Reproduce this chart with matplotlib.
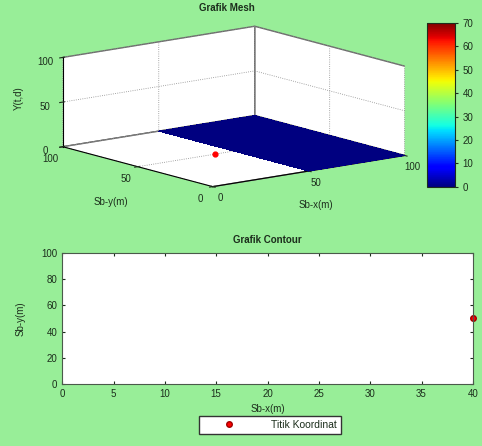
import numpy as np
import matplotlib
matplotlib.use("Agg")
import matplotlib.pyplot as plt
from matplotlib import cm, colors

# data
mesh_x = [50, 100]          # Sb-x(m) extent of the mesh
mesh_y = [0, 100]           # Sb-y(m) extent of the mesh
mesh_z = [[0, 0], [0, 0]]   # Y(t,d)
titik_x = [40]
titik_y = [50]
titik_z = [0]
cbar_ticks = [0, 10, 20, 30, 40, 50, 60, 70]
z_ticks = [0, 50, 100]
xy_ticks = [0, 50, 100]
contour_xticks = [0, 5, 10, 15, 20, 25, 30, 35, 40]
contour_yticks = [0, 20, 40, 60, 80, 100]

bg = "#98ee98"
txt = "#1c2e1c"
fs = 7

plt.rcParams["font.family"] = ["Liberation Sans", "DejaVu Sans"]
plt.rcParams["font.size"] = fs
plt.rcParams["text.color"] = txt
plt.rcParams["xtick.color"] = txt
plt.rcParams["ytick.color"] = txt
plt.rcParams["axes.labelcolor"] = txt
plt.rcParams["grid.linestyle"] = ":"
plt.rcParams["grid.color"] = "#8a8a8a"
plt.rcParams["grid.linewidth"] = 0.6

fig = plt.figure(figsize=(4.82, 4.46), dpi=100, facecolor=bg)

# ---- Grafik Mesh (3D)
ax3 = fig.add_axes([0.019, 0.52, 0.92, 0.47], projection="3d", proj_type="ortho")
ax3.set_facecolor(bg)
X, Y = np.meshgrid(mesh_x, mesh_y)
Z = np.array(mesh_z)
norm = colors.Normalize(vmin=0, vmax=70)
surf = ax3.plot_surface(X, Y, Z, cmap="jet", norm=norm, linewidth=0,
                        antialiased=False, shade=False)
surf.set_clip_on(False)
pt = ax3.scatter(titik_x, titik_y, titik_z, color="red", s=12, depthshade=False)
pt.set_clip_on(False)
ax3.set_xlim(0, 100)
ax3.set_ylim(0, 100)
ax3.set_zlim(0, 100)
ax3.set_xticks(xy_ticks)
ax3.set_yticks(xy_ticks)
ax3.set_zticks(z_ticks)
ax3.tick_params(axis="x", pad=-4, labelsize=fs)
ax3.tick_params(axis="y", pad=-3, labelsize=fs)
ax3.tick_params(axis="z", pad=-4, labelsize=fs)
for a in (ax3.xaxis, ax3.yaxis, ax3.zaxis):
    a.set_pane_color((1, 1, 1, 1))
    a.pane.set_edgecolor("#6a6a6a")
ax3.set_box_aspect((1, 1, 0.375), zoom=1.65)
ax3.view_init(elev=12, azim=-128)
fig.text(0.47, 0.982, "Grafik Mesh", ha="center", va="center", fontweight="bold")
fig.text(0.23, 0.547, "Sb-y(m)", ha="center", va="center")
fig.text(0.655, 0.540, "Sb-x(m)", ha="center", va="center")
fig.text(0.04, 0.78, "Y(t,d)", ha="center", va="center", rotation=90)

cax = fig.add_axes([0.886, 0.581, 0.058, 0.368])
cb = fig.colorbar(cm.ScalarMappable(norm=norm, cmap="jet"), cax=cax, ticks=cbar_ticks)
cb.outline.set_edgecolor(txt)
cb.ax.tick_params(labelsize=fs, length=2)

# ---- Grafik Contour
ax2 = fig.add_axes([0.129, 0.139, 0.852, 0.294])
ax2.set_facecolor("white")
ax2.plot(titik_x, titik_y, "o", color="red", markeredgecolor="#a00000",
         markersize=4, label="Titik Koordinat", clip_on=False)
ax2.set_xlim(0, 40)
ax2.set_ylim(0, 100)
ax2.set_xticks(contour_xticks)
ax2.set_yticks(contour_yticks)
ax2.tick_params(direction="in", top=True, right=True, length=2.5, labelsize=fs)
for s in ax2.spines.values():
    s.set_color("#4a5a4a")
ax2.set_xlabel("Sb-x(m)", labelpad=4)
ax2.set_ylabel("Sb-y(m)", labelpad=11)
ax2.set_title("Grafik Contour", fontweight="bold", fontsize=fs, pad=7)
fig.legend(loc="center", bbox_to_anchor=(0.56, 0.047), fontsize=7.5, fancybox=False,
           edgecolor="#333333", framealpha=1, borderpad=0.35, handlelength=5,
           handletextpad=1.6, borderaxespad=0)

fig.savefig("out.png", dpi=100, facecolor=bg)
